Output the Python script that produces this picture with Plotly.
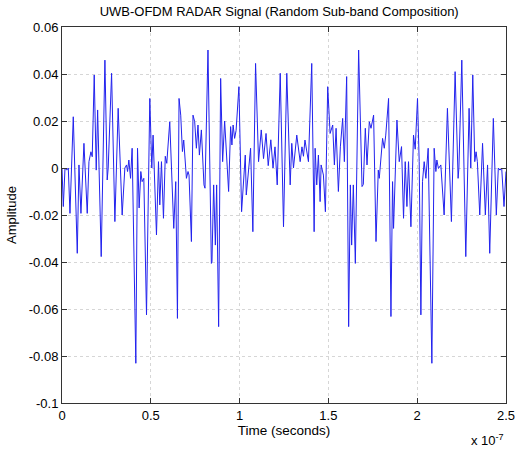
import plotly.graph_objects as go

# Time axis values in units of 1e-7 s (vertices of the trace)
time_e7 = [
    0.0000, 0.0073, 0.0169, 0.0264, 0.0354, 0.0449, 0.0635, 0.0860, 0.0955, 0.1067,
    0.1236, 0.1421, 0.1517, 0.1629, 0.1702, 0.1815, 0.1927, 0.2006, 0.2208, 0.2416,
    0.2545, 0.2601, 0.2792, 0.2978, 0.3163, 0.3388, 0.3539, 0.3635, 0.3691, 0.3764,
    0.3860, 0.3949, 0.4157, 0.4253, 0.4343, 0.4438, 0.4511, 0.4607, 0.4758, 0.4944,
    0.5056, 0.5129, 0.5320, 0.5433, 0.5506, 0.5601, 0.5713, 0.5815, 0.5899, 0.6067,
    0.6292, 0.6404, 0.6500, 0.6590, 0.6685, 0.6781, 0.6854, 0.7006, 0.7096, 0.7152,
    0.7287, 0.7376, 0.7472, 0.7567, 0.7657, 0.7736, 0.7848, 0.7994, 0.8051, 0.8219,
    0.8410, 0.8444, 0.8539, 0.8635, 0.8708, 0.8820, 0.8933, 0.9045, 0.9157, 0.9382,
    0.9494, 0.9567, 0.9635, 0.9719, 0.9803, 0.9961, 1.0112, 1.0225, 1.0320, 1.0376,
    1.0618, 1.0747, 1.0899, 1.1067, 1.1219, 1.1348, 1.1489, 1.1612, 1.1758, 1.1882,
    1.1994, 1.2118, 1.2287, 1.2472, 1.2657, 1.2848, 1.2938, 1.3034, 1.3219, 1.3410,
    1.3511, 1.3596, 1.3680, 1.3876, 1.4062, 1.4197, 1.4253, 1.4343, 1.4438, 1.4534,
    1.4590, 1.4719, 1.4831, 1.4961, 1.5096, 1.5242, 1.5337, 1.5433, 1.5562, 1.5674,
    1.5803, 1.5899, 1.6028, 1.6140, 1.6236, 1.6309, 1.6404, 1.6517, 1.6702, 1.6893,
    1.6966, 1.7079, 1.7174, 1.7303, 1.7399, 1.7545, 1.7680, 1.7809, 1.7865, 1.8051,
    1.8146, 1.8230, 1.8388, 1.8522, 1.8612, 1.8669, 1.8860, 1.8989, 1.9118, 1.9230,
    1.9326, 1.9421, 1.9511, 1.9646, 1.9792, 1.9888, 2.0017, 2.0112, 2.0208, 2.0298,
    2.0393, 2.0489, 2.0618, 2.0826, 2.0955, 2.1051, 2.1107, 2.1197, 2.1331, 2.1517,
    2.1702, 2.1927, 2.2135, 2.2303, 2.2348, 2.2511, 2.2736, 2.2921, 2.3017, 2.3129,
    2.3242, 2.3315, 2.3388, 2.3522, 2.3680, 2.3837, 2.3961, 2.4084, 2.4287, 2.4455,
    2.4567, 2.4663, 2.4758, 2.4888, 2.5000,
]

amplitude = [
    0.0000, -0.0164, 0.0000, -0.0009, 0.0000, -0.0193, 0.0218, -0.0363, 0.0013, -0.0193,
    0.0105, -0.0193, 0.0027, 0.0069, 0.0048, 0.0396, -0.0009, 0.0247, -0.0377, 0.0459,
    -0.0051, 0.0000, 0.0403, -0.0228, 0.0254, -0.0200, 0.0000, 0.0013, -0.0015, 0.0034,
    -0.0044, 0.0084, -0.0831, 0.0084, -0.0170, -0.0015, -0.0058, -0.0044, -0.0625, 0.0296,
    0.0000, 0.0140, -0.0285, 0.0027, -0.0157, 0.0027, -0.0214, 0.0050, 0.0020, 0.0197,
    -0.0257, -0.0058, -0.0640, 0.0296, 0.0225, 0.0070, 0.0119, -0.0044, -0.0015, -0.0030,
    -0.0313, 0.0225, 0.0197, 0.0084, 0.0183, 0.0055, 0.0162, -0.0072, -0.0086, 0.0502,
    -0.0406, -0.0399, -0.0072, -0.0328, -0.0072, -0.0675, 0.0381, 0.0027, 0.0200, -0.0100,
    0.0176, 0.0098, 0.0183, 0.0126, 0.0160, 0.0346, -0.0186, -0.0028, 0.0055, -0.0115,
    0.0084, -0.0271, 0.0445, 0.0027, 0.0162, 0.0040, 0.0147, 0.0010, 0.0120, 0.0000,
    0.0090, -0.0072, 0.0403, -0.0250, 0.0403, -0.0072, 0.0105, 0.0000, 0.0140, 0.0027,
    0.0090, 0.0050, 0.0119, 0.0027, 0.0445, -0.0271, 0.0084, -0.0072, 0.0055, -0.0143,
    0.0013, -0.0030, -0.0186, 0.0346, 0.0147, 0.0183, 0.0013, 0.0169, -0.0100, 0.0090,
    0.0211, 0.0027, 0.0389, -0.0675, -0.0072, -0.0328, -0.0072, -0.0406, 0.0502, -0.0079,
    -0.0070, 0.0169, 0.0013, 0.0197, 0.0169, 0.0225, -0.0313, -0.0009, -0.0044, 0.0126,
    0.0084, 0.0140, 0.0296, -0.0632, -0.0058, -0.0257, 0.0204, 0.0027, 0.0091, -0.0214,
    0.0027, -0.0164, 0.0027, -0.0250, 0.0140, 0.0080, 0.0296, 0.0027, -0.0625, -0.0058,
    0.0027, -0.0044, 0.0084, -0.0831, 0.0084, -0.0015, 0.0034, -0.0002, 0.0013, -0.0200,
    0.0254, -0.0228, 0.0410, -0.0044, 0.0000, 0.0459, -0.0377, 0.0254, 0.0000, 0.0396,
    0.0027, 0.0069, 0.0027, -0.0200, 0.0105, -0.0200, 0.0013, -0.0363, 0.0211, -0.0200,
    0.0000, -0.0009, 0.0000, -0.0164, -0.0015,
]

x_tick_vals = [0, 0.5, 1, 1.5, 2, 2.5]
x_tick_text = ["0", "0.5", "1", "1.5", "2", "2.5"]
y_tick_vals = [0.06, 0.04, 0.02, 0, -0.02, -0.04, -0.06, -0.08, -0.1]
y_tick_text = ["0.06", "0.04", "0.02", "0", "-0.02", "-0.04", "-0.06", "-0.08", "-0.1"]

font_family = "Liberation Sans, Arial, sans-serif"

fig = go.Figure()
fig.add_trace(go.Scatter(
    x=time_e7, y=amplitude, mode="lines",
    line=dict(color="#2222ee", width=1),
    showlegend=False,
))

axis_common = dict(
    showline=True, linecolor="#333333", linewidth=1, mirror="ticks",
    ticks="inside", ticklen=5, tickcolor="#333333",
    showgrid=True, gridcolor="#d6d6d6", griddash="dot", gridwidth=1,
    zeroline=False, automargin=False,
    tickfont=dict(family=font_family, size=13, color="black"),
)

fig.update_layout(
    width=517, height=454,
    margin=dict(l=62, r=11, t=27, b=51),
    paper_bgcolor="white", plot_bgcolor="white",
    title=dict(
        text="UWB-OFDM RADAR Signal (Random Sub-band Composition)",
        x=0.54, xanchor="center", y=0.975, yanchor="middle",
        font=dict(family=font_family, size=13, color="black"),
    ),
    xaxis=dict(
        range=[0, 2.5], tickvals=x_tick_vals, ticktext=x_tick_text,
        title=dict(text="Time (seconds)", standoff=3,
                   font=dict(family=font_family, size=13.5, color="black")),
        **axis_common,
    ),
    yaxis=dict(
        range=[-0.1, 0.06], tickvals=y_tick_vals, ticktext=y_tick_text,
        title=dict(text="Amplitude", standoff=9,
                   font=dict(family=font_family, size=13, color="black")),
        **axis_common,
    ),
    annotations=[dict(
        text="x 10<sup>-7</sup>", xref="paper", yref="paper",
        x=1.0, y=-0.072, xanchor="right", yanchor="top", showarrow=False,
        font=dict(family=font_family, size=13, color="black"),
    )],
)

fig.write_html("out.html")
